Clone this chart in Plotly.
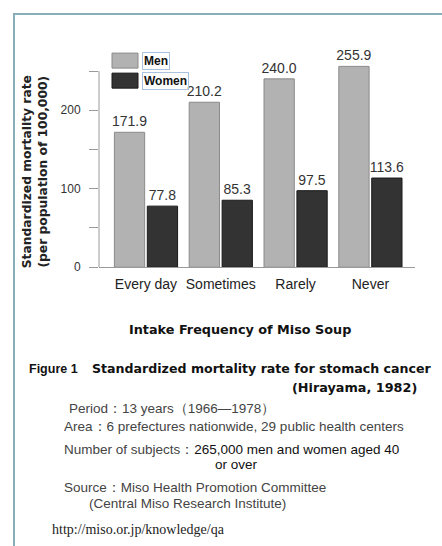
import plotly.graph_objects as go

categories = ["Every day", "Sometimes", "Rarely", "Never"]
men = [171.9, 210.2, 240.0, 255.9]
women = [77.8, 85.3, 97.5, 113.6]
y_tickvals = [0, 50, 100, 150, 200, 250]
y_ticktext = ["0", "", "100", "", "200", ""]

W, H = 442, 546          # reference pixel frame
FIG_H = 554              # page viewport height used by the renderer
def px(x):
    return x / W
def py(y):
    return 1 - y / H

SANS = "Liberation Sans, Arial, sans-serif"
BOLD = "DejaVu Sans, Verdana, sans-serif"

fig = go.Figure()
fig.add_trace(go.Bar(
    x=categories, y=men, name="Men",
    marker=dict(color="#b2b2b2", line=dict(color="#8a8a8a", width=1)),
    texttemplate="%{y:.1f}", textposition="outside", constraintext="none",
    textfont=dict(size=14, color="#333333", family=SANS),
    cliponaxis=False,
))
fig.add_trace(go.Bar(
    x=categories, y=women, name="Women",
    marker=dict(color="#333333", line=dict(color="#1a1a1a", width=1)),
    texttemplate="%{y:.1f}", textposition="outside", constraintext="none",
    textfont=dict(size=14, color="#333333", family=SANS),
    cliponaxis=False,
))

fig.update_layout(
    width=W, height=FIG_H, autosize=False,
    margin=dict(l=0, r=0, t=0, b=0),
    paper_bgcolor="white", plot_bgcolor="white",
    showlegend=False,
    barmode="group", bargap=0.12, bargroupgap=0.08,
    xaxis=dict(
        domain=[px(99), px(415)],
        range=[-0.628, 3.596],
        type="category",
        showgrid=False, zeroline=False,
        showline=True, linecolor="#9a9a9a", linewidth=1,
        ticks="", ticklabelstandoff=4,
        tickfont=dict(size=14, color="#222222", family=SANS),
    ),
    yaxis=dict(
        domain=[py(266.7), py(266.7 - 262 * 0.7833)],
        range=[0, 262],
        showgrid=False, zeroline=False, showline=False,
        tickvals=y_tickvals, ticktext=y_ticktext,
        ticks="outside", ticklen=9, tickcolor="#9a9a9a", tickwidth=1,
        ticklabelstandoff=6,
        tickfont=dict(size=12, color="#333333", family=SANS),
    ),
)

shapes = []
shapes.append(dict(type="line", xref="paper", yref="y", x0=px(99), x1=px(99),
                   y0=0, y1=250, line=dict(color="#9a9a9a", width=1)))
shapes.append(dict(type="line", xref="paper", yref="paper", x0=px(14), x1=px(14),
                   y0=py(13), y1=0, line=dict(color="#86aebb", width=2)))
shapes.append(dict(type="line", xref="paper", yref="paper", x0=px(13), x1=1,
                   y0=py(14), y1=py(14), line=dict(color="#86aebb", width=2)))
shapes.append(dict(type="rect", xref="paper", yref="paper", x0=px(112), x1=px(138),
                   y0=py(68), y1=py(53), fillcolor="#b2b2b2", line=dict(color="#8a8a8a", width=1)))
shapes.append(dict(type="rect", xref="paper", yref="paper", x0=px(112), x1=px(138),
                   y0=py(88), y1=py(73), fillcolor="#333333", line=dict(color="#1a1a1a", width=1)))
fig.update_layout(shapes=shapes)

ann = []
def text(t, x, y, size, family, color="#333333", xanchor="left", bold=False, **kw):
    if bold:
        t = "<b>" + t + "</b>"
    ann.append(dict(text=t, x=px(x), y=py(y), xref="paper", yref="paper",
                    xanchor=xanchor, yanchor="middle", showarrow=False,
                    font=dict(size=size, family=family, color=color), **kw))

text("Men", 142, 60.5, 12, SANS, "#111111", bold=True,
     bordercolor="#a9c2df", borderwidth=1, borderpad=1)
text("Women", 142, 80.5, 12, SANS, "#111111", bold=True,
     bordercolor="#a9c2df", borderwidth=1, borderpad=1)

ann.append(dict(text="<b>Standardized mortality rate<br>(per population of 100,000)</b>",
                x=px(35), y=py(172), xref="paper", yref="paper",
                xanchor="center", yanchor="middle", showarrow=False, textangle=-90,
                font=dict(size=12.3, family=BOLD, color="#222222")))

text("Intake Frequency of Miso Soup", 240, 329, 12.8, BOLD, "#111111", xanchor="center", bold=True)
text("Figure 1", 27, 368, 12.5, "Liberation Sans Narrow, Liberation Sans, Arial", "#111111", bold=True)
text("Standardized mortality rate for stomach cancer", 90, 368, 12.6, BOLD, "#111111", bold=True)
text("(Hirayama, 1982)", 419, 387, 12.8, BOLD, "#111111", xanchor="right", bold=True)

text("Period：13 years（1966—1978）", 67, 408, 13.5, SANS, "#444444")
text("Area：6 prefectures nationwide, 29 public health centers", 62, 426, 13.5, SANS, "#444444")
text("Number of subjects：<span style='color:#111111'>265,000 men and women aged 40</span>",
     62, 449, 13.5, SANS, "#444444")
text("or over", 236, 464, 13.5, SANS, "#111111", xanchor="center")
text("Source：Miso Health Promotion Committee", 62, 487, 13.5, SANS, "#444444")
text("(Central Miso Research Institute)", 87, 503, 13.5, SANS, "#444444")
text("http://miso.or.jp/knowledge/qa", 50, 529, 14, "Liberation Serif, Times New Roman, serif", "#222222")

fig.update_layout(annotations=ann)
fig.write_html(
    "out.html",
    config={"displayModeBar": False},
    post_script=(
        "document.body.style.margin='0';"
        "document.body.style.overflow='hidden';"
        "document.documentElement.style.overflow='hidden';"
    ),
)
